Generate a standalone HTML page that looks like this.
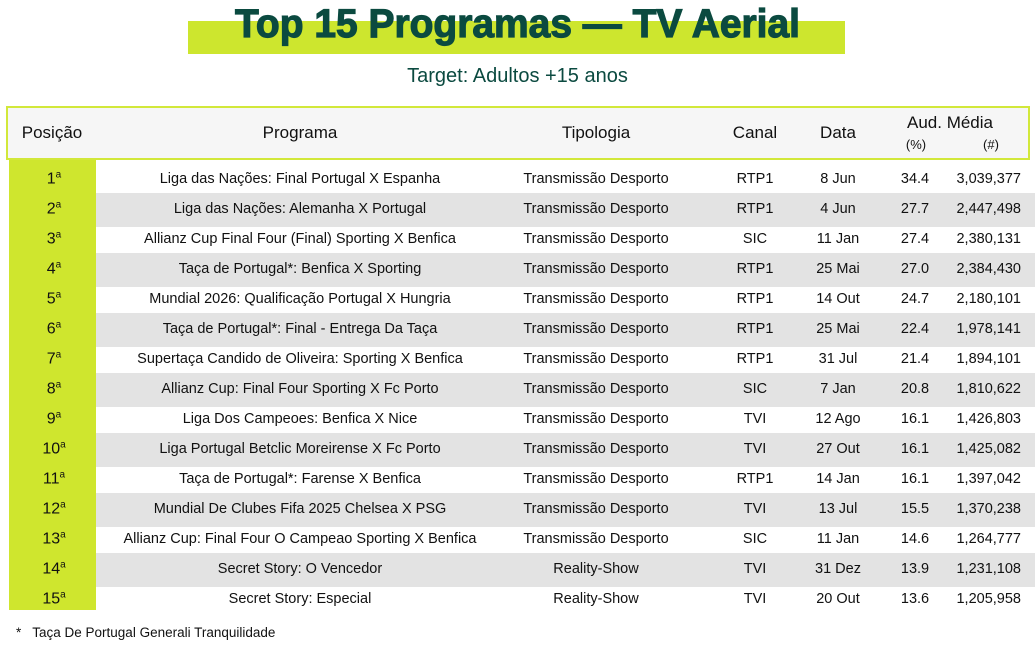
<!DOCTYPE html>
<html><head><meta charset="utf-8">
<style>
*{margin:0;padding:0;box-sizing:border-box}
body{width:1035px;height:656px;background:#fff;position:relative;overflow:hidden;font-family:"Liberation Sans",sans-serif;color:#111}
.abs{position:absolute}
.band{left:188px;top:21px;width:657px;height:33px;background:#cde62e}
.sub{left:0;width:1035px;top:65px;text-align:center;font-size:20px;color:#0b4a40}
.hdr{left:6px;top:106px;width:1024px;height:54px;background:#f6f6f6;border:2px solid #d2e83a}
.h{font-size:17px;color:#111;top:123px;transform:translateX(-50%);white-space:nowrap}
.poscol{left:9px;top:160px;width:87px;height:450px;background:#cfe62e}
.gray{left:96px;width:939px;height:34px;background:#e3e3e3}
.c{position:absolute;font-size:14.5px;transform:translate(-50%,-50%);white-space:nowrap}
.r{position:absolute;font-size:14.5px;transform:translateY(-50%);white-space:nowrap;text-align:right}
.pos{font-size:16px}
sup{font-size:10px;vertical-align:6px}
</style></head><body>
<div class="abs band"></div>
<svg class="abs" style="left:0;top:0" width="1035" height="60">
<text x="235" y="37" textLength="565" lengthAdjust="spacingAndGlyphs" font-family="Liberation Sans, sans-serif" font-weight="900" font-size="40" fill="#0b4a40" stroke="#0b4a40" stroke-width="1.2">Top 15 Programas — TV Aerial</text></svg>
<div class="abs sub">Target: Adultos +15 anos</div>
<div class="abs hdr"></div>
<div class="abs h" style="left:52px">Posição</div>
<div class="abs h" style="left:300px">Programa</div>
<div class="abs h" style="left:596px">Tipologia</div>
<div class="abs h" style="left:755px">Canal</div>
<div class="abs h" style="left:838px">Data</div>
<div class="abs h" style="left:950px;top:113px">Aud. Média</div>
<div class="abs h" style="left:916px;top:137px;font-size:13px">(%)</div>
<div class="abs h" style="left:991px;top:137px;font-size:13px">(#)</div>
<div class="abs poscol"></div>
<div id="rows"></div>
<div class="abs" style="left:16px;top:625px;font-size:13.5px">*&nbsp;&nbsp; Taça De Portugal Generali Tranquilidade</div>
<script>
const programas=["Liga das Nações: Final Portugal X Espanha","Liga das Nações: Alemanha X Portugal","Allianz Cup Final Four (Final) Sporting X Benfica","Taça de Portugal*: Benfica X Sporting","Mundial 2026: Qualificação Portugal X Hungria","Taça de Portugal*: Final - Entrega Da Taça","Supertaça Candido de Oliveira: Sporting X Benfica","Allianz Cup: Final Four Sporting X Fc Porto","Liga Dos Campeoes: Benfica X Nice","Liga Portugal Betclic Moreirense X Fc Porto","Taça de Portugal*: Farense X Benfica","Mundial De Clubes Fifa 2025 Chelsea X PSG","Allianz Cup: Final Four O Campeao Sporting X Benfica","Secret Story: O Vencedor","Secret Story: Especial"];
const tipologias=["Transmissão Desporto","Transmissão Desporto","Transmissão Desporto","Transmissão Desporto","Transmissão Desporto","Transmissão Desporto","Transmissão Desporto","Transmissão Desporto","Transmissão Desporto","Transmissão Desporto","Transmissão Desporto","Transmissão Desporto","Transmissão Desporto","Reality-Show","Reality-Show"];
const canais=["RTP1","RTP1","SIC","RTP1","RTP1","RTP1","RTP1","SIC","TVI","TVI","RTP1","TVI","SIC","TVI","TVI"];
const datas=["8 Jun","4 Jun","11 Jan","25 Mai","14 Out","25 Mai","31 Jul","7 Jan","12 Ago","27 Out","14 Jan","13 Jul","11 Jan","31 Dez","20 Out"];
const pcts=["34.4","27.7","27.4","27.0","24.7","22.4","21.4","20.8","16.1","16.1","16.1","15.5","14.6","13.9","13.6"];
const nums=["3,039,377","2,447,498","2,380,131","2,384,430","2,180,101","1,978,141","1,894,101","1,810,622","1,426,803","1,425,082","1,397,042","1,370,238","1,264,777","1,231,108","1,205,958"];
const root=document.getElementById('rows');
function add(cls,x,y,html,name){const d=document.createElement('div');d.className=cls;d.style.left=x+'px';d.style.top=y+'px';d.innerHTML=html;


root.appendChild(d);return d;}
programas.forEach((p,i)=>{
 const cy=179+i*30;
 if(i%2===1){const g=document.createElement('div');g.className='abs gray';g.style.top=(cy-16)+'px';
 
 
 root.appendChild(g);}
});
programas.forEach((p,i)=>{
 const cy=179+i*30;
 add('c pos',54,cy,(i+1)+'<sup>a</sup>','row-position');
 add('c',300,cy,p,'row-programa');
 add('c',596,cy,tipologias[i],'row-tipologia');
 add('c',755,cy,canais[i],'row-canal');
 add('c',838,cy,datas[i],'row-data');
 add('c',915,cy,pcts[i],'row-pct');
 const n=add('r',0,cy,nums[i],'row-num');n.style.left='auto';n.style.right='14px';
});
</script>
</body></html>
